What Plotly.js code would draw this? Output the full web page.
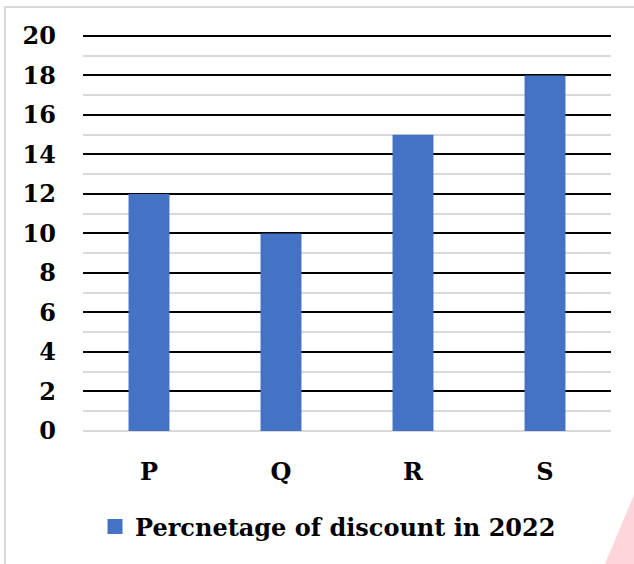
<!DOCTYPE html>
<html>
<head>
<meta charset="utf-8">
<script src="https://cdn.plot.ly/plotly-3.0.1.min.js"></script>
<style>html,body{margin:0;padding:0;background:#fff;}#chart{width:634px;height:564px;}</style>
</head>
<body>
<div id="chart"></div>
<script>
const categories = ["P", "Q", "R", "S"];
const discountValues = [12, 10, 15, 18];
const seriesName = "Percnetage of discount in 2022";
const yTicks = [0, 2, 4, 6, 8, 10, 12, 14, 16, 18, 20];
const yMinorTicks = [1, 3, 5, 7, 9, 11, 13, 15, 17, 19];

const W = 634, H = 564, L = 83, R = 23, T = 26, B = 133;
const pw = W - L - R, ph = H - T - B;
const px = v => (v - L) / pw;
const py = v => (H - B - v) / ph;

const fontFam = "'DejaVu Serif', 'Liberation Serif', serif";
const barColor = "#4472c4";

const data = [{
  type: "bar",
  x: categories,
  y: discountValues,
  name: seriesName,
  marker: {color: barColor},
  width: 0.31,
  showlegend: false
}, {
  type: "scatter",
  mode: "markers",
  x: [null],
  y: [null],
  name: seriesName,
  marker: {color: barColor, symbol: "square", size: 15},
  showlegend: true,
  hoverinfo: "skip"
}];

const layout = {
  width: W, height: H,
  margin: {l: L, r: R, t: T, b: B, pad: 0},
  paper_bgcolor: "#fff",
  plot_bgcolor: "#fff",
  showlegend: true,
  font: {family: fontFam, color: "#000"},
  xaxis: {
    type: "category",
    categoryarray: categories,
    range: [-0.5, 3.5],
    showgrid: false,
    showline: false,
    zeroline: false,
    ticks: "",
    ticklabelstandoff: 24,
    tickfont: {family: fontFam, size: 24, color: "#000", weight: "bold"}
  },
  yaxis: {
    range: [0, 20.5],
    tickvals: yTicks,
    ticktext: yTicks.map(String),
    showgrid: true,
    gridcolor: "#000",
    gridwidth: 2,
    zeroline: true,
    zerolinecolor: "#d9d9d9",
    zerolinewidth: 2,
    showline: false,
    ticks: "",
    ticklabelstandoff: 26,
    tickfont: {family: fontFam, size: 24, color: "#000", weight: "bold"},
    minor: {tickvals: yMinorTicks, showgrid: true, gridcolor: "#d9d9d9", gridwidth: 2}
  },
  legend: {
    orientation: "h",
    x: px(328), xanchor: "center",
    y: py(527), yanchor: "middle",
    font: {family: fontFam, size: 24, color: "#000", weight: "bold"},
    itemwidth: 30
  },
  shapes: [
    {type: "rect", xref: "paper", yref: "paper", layer: "below",
     x0: px(5), x1: px(650), y0: py(7), y1: py(600),
     line: {color: "#d9d9d9", width: 2}, fillcolor: "rgba(0,0,0,0)"},
    {type: "path", xref: "paper", yref: "paper", layer: "above",
     path: `M ${px(605)} ${py(564)} L ${px(634)} ${py(495)} L ${px(640)} ${py(495)} L ${px(640)} ${py(570)} L ${px(603)} ${py(570)} Z`,
     fillcolor: "#fdd5da", line: {width: 0}}
  ]
};

Plotly.newPlot("chart", data, layout, {displayModeBar: false, staticPlot: true});
</script>
</body>
</html>
